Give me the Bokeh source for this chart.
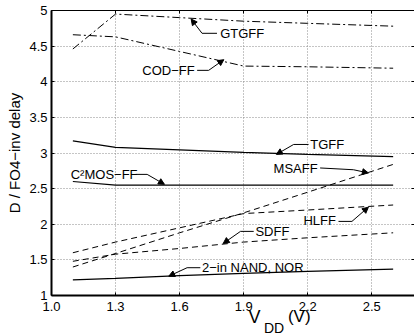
from bokeh.plotting import figure
from bokeh.models import (Range1d, FixedTicker, Label, Arrow, NormalHead, NumeralTickFormatter,
                          LinearAxis, BoxAnnotation)
from bokeh.embed import file_html
from bokeh.resources import INLINE

# ---- data ----
vdd = [1.1, 1.3, 1.6, 1.9, 2.2, 2.6]
gtgff = [4.46, 4.95, 4.90, 4.85, 4.82, 4.78]
codff = [4.66, 4.63, 4.425, 4.22, 4.21, 4.19]
tgff = [3.17, 3.08, 3.045, 3.01, 2.98, 2.95]
c2mosff = [2.60, 2.55, 2.55, 2.55, 2.55, 2.55]
msaff = [1.40, 1.59, 1.88, 2.16, 2.45, 2.84]
hlff = [1.60, 1.75, 1.95, 2.15, 2.20, 2.27]
sdff = [1.48, 1.58, 1.66, 1.75, 1.81, 1.88]
nand_nor = [1.22, 1.24, 1.28, 1.31, 1.34, 1.37]

x_ticks = [1.0, 1.3, 1.6, 1.9, 2.2, 2.5]
y_ticks = [1, 1.5, 2, 2.5, 3, 3.5, 4, 4.5, 5]
y_tick_labels = ["1", "1.5", "2", "2.5", "3", "3.5", "4", "4.5", "5"]

# annotation: text, text x, text y, [start, bend, tip] of the pointer
notes = [
    ("GTGFF", 1.79, 4.68, [(1.775, 4.68), (1.705, 4.68), (1.654, 4.88)]),
    ("COD\u2212FF", 1.425, 4.16, [(1.682, 4.16), (1.736, 4.16), (1.807, 4.31)]),
    ("TGFF", 2.212, 3.12, [(2.204, 3.12), (2.134, 3.12), (2.053, 2.98)]),
    ("C\u00b2MOS\u2212FF", 1.09, 2.70, [(1.394, 2.70), (1.448, 2.70), (1.529, 2.56)]),
    ("MSAFF", 2.04, 2.78, [(2.258, 2.79), (2.414, 2.765), (2.484, 2.72)]),
    ("HLFF", 2.18, 2.05, [(2.344, 2.04), (2.407, 2.04), (2.484, 2.24)]),
    ("SDFF", 1.955, 1.90, [(1.947, 1.90), (1.885, 1.90), (1.804, 1.73)]),
    ("2\u2212in NAND, NOR", 1.705, 1.39, [(1.697, 1.39), (1.635, 1.39), (1.549, 1.27)]),
]

FONT = "Liberation Sans"
X0, X1 = 1.0, 2.7
Y0, Y1 = 1.0, 5.0
# the frame fills the canvas; the axes sit at fixed data positions inside it
XR = (0.7611, 2.7)
YR = (0.4246, 5.1404)

p = figure(width=414, height=336, output_backend="svg", toolbar_location=None,
           x_range=Range1d(*XR), y_range=Range1d(*YR),
           x_axis_location=None, y_axis_location=None,
           min_border_left=0, min_border_right=0, min_border_top=0, min_border_bottom=0)
p.background_fill_color = "white"
p.border_fill_color = "white"
p.outline_line_color = None

xax = LinearAxis(fixed_location=Y0, ticker=FixedTicker(ticks=x_ticks),
                 formatter=NumeralTickFormatter(format="0.0"), bounds=(X0, X1))
p.add_layout(xax, "below")
yax = LinearAxis(fixed_location=X0, ticker=FixedTicker(ticks=y_ticks), bounds=(Y0, Y1),
                 major_label_overrides={t: s for t, s in zip(y_ticks, y_tick_labels)})
p.add_layout(yax, "left")
tax = LinearAxis(fixed_location=Y1, ticker=FixedTicker(ticks=x_ticks), bounds=(X0, X1),
                 major_label_overrides={t: "" for t in x_ticks})
p.add_layout(tax, "above")
rax = LinearAxis(fixed_location=X1, ticker=FixedTicker(ticks=y_ticks), bounds=(Y0, Y1),
                 major_label_overrides={t: "" for t in y_ticks})
p.add_layout(rax, "right")

for ax in (xax, yax, tax, rax):
    ax.axis_line_color = "black"
    ax.major_tick_in = 3
    ax.major_tick_out = 0
    ax.major_tick_line_color = "black"
    ax.minor_tick_line_color = None
    ax.major_label_text_font = FONT
    ax.major_label_text_font_size = "13px"
    ax.major_label_text_color = "black"
    ax.major_label_standoff = 4
xax.axis_line_width = 2
yax.axis_line_width = 2
tax.axis_line_width = 1
rax.axis_line_width = 1
xax.major_label_standoff = 6

yax.axis_label = "D / FO4\u2212inv delay"
yax.axis_label_text_font = FONT
yax.axis_label_text_font_size = "15px"
yax.axis_label_text_font_style = "normal"
yax.axis_label_text_color = "black"
yax.axis_label_standoff = 3

p.xgrid.ticker = FixedTicker(ticks=x_ticks)
p.ygrid.ticker = FixedTicker(ticks=y_ticks)
for g in (p.xgrid[0], p.ygrid[0]):
    g.grid_line_color = "#8a8a8a"
    g.grid_line_dash = "1 2"
    g.grid_line_width = 1
p.xgrid[0].cross_bounds = (Y0, Y1)
p.ygrid[0].cross_bounds = (X0, X1)

# series
dashdot = "8 3 2 3"
dashed = "6 4"
p.line(vdd, gtgff, line_color="black", line_width=1, line_dash=dashdot)
p.line(vdd, codff, line_color="black", line_width=1, line_dash=dashdot)
p.line(vdd, tgff, line_color="black", line_width=1.2)
p.line(vdd, c2mosff, line_color="black", line_width=1.2)
p.line(vdd, msaff, line_color="black", line_width=1, line_dash=dashed)
p.line(vdd, hlff, line_color="black", line_width=1, line_dash=dashed)
p.line(vdd, sdff, line_color="black", line_width=1, line_dash=dashed)
p.line(vdd, nand_nor, line_color="black", line_width=1.2)

# text arrows
for text, tx, ty, pts in notes:
    (sx, sy), (bx, by), (ex, ey) = pts
    p.line([sx, bx], [sy, by], line_color="black", line_width=1)
    p.add_layout(Arrow(end=NormalHead(size=6, fill_color="black", line_color="black", line_width=1),
                       x_start=bx, y_start=by, x_end=ex, y_end=ey,
                       line_color="black", line_width=1))
    p.add_layout(Label(x=tx, y=ty, text=text, text_font=FONT, text_font_size="13px",
                       text_baseline="middle", text_align="left", text_color="black"))

# x-axis title  V_DD (V)
p.add_layout(Label(x=1.923, y=0.70, text="V", text_font=FONT, text_font_size="18px",
                   text_baseline="middle", text_align="left", text_color="black"))
p.add_layout(Label(x=1.995, y=0.54, text="DD", text_font=FONT, text_font_size="14px",
                   text_baseline="middle", text_align="left", text_color="black"))
p.add_layout(Label(x=2.107, y=0.70, text="(V)", text_font=FONT, text_font_size="17px",
                   text_baseline="middle", text_align="left", text_color="black"))

open("out.html", "w").write(file_html(p, INLINE))
